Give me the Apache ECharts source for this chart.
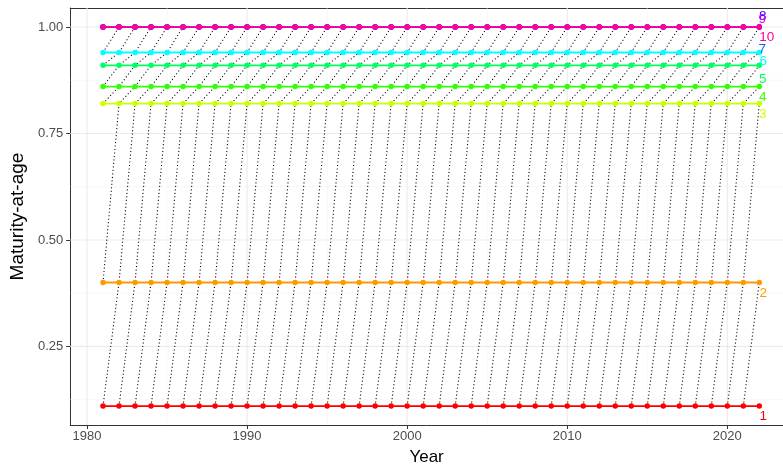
<!DOCTYPE html>
<html>
<head>
<meta charset="utf-8">
<script src="https://cdn.jsdelivr.net/npm/echarts@6/dist/echarts.min.js"></script>
<style>
  html, body { margin: 0; padding: 0; background: #fff; }
  #chart { width: 783px; height: 471px; }
</style>
</head>
<body>
<div id="chart"></div>
<script>
// ---- Data ----
const years = [1981, 1982, 1983, 1984, 1985, 1986, 1987, 1988, 1989, 1990,
               1991, 1992, 1993, 1994, 1995, 1996, 1997, 1998, 1999, 2000,
               2001, 2002, 2003, 2004, 2005, 2006, 2007, 2008, 2009, 2010,
               2011, 2012, 2013, 2014, 2015, 2016, 2017, 2018, 2019, 2020,
               2021, 2022];
const ages = ["1", "2", "3", "4", "5", "6", "7", "8", "9", "10"];
const maturityAtAge = [0.11, 0.40, 0.82, 0.86, 0.91, 0.94, 1.00, 1.00, 1.00, 1.00];
const xTicks = [1980, 1990, 2000, 2010, 2020];
const xMinorTicks = [1985, 1995, 2005, 2015];
const yTicks = [0.25, 0.50, 0.75, 1.00];
const yMinorTicks = [0.125, 0.375, 0.625, 0.875];

// ---- Styles / layout ----
const X_MIN = 1978.95, X_MAX = 2023.48;
const Y_MIN = 0.0655, Y_MAX = 1.0445;
const FONT = "Liberation Sans, Arial, sans-serif";
const ageColors = ["#FF0000", "#FF9900", "#CCFF00", "#33FF00", "#00FF66",
                   "#00FFFF", "#0066FF", "#3300FF", "#CC00FF", "#FF0099"];
// label offsets (px) relative to the last point of each age line
const labelOffsets = [[4, 10.5], [4, 10.5], [3.5, 10.5], [3.5, 11], [3.5, 14],
                      [4, 9], [3, 22], [3.5, -10.5], [3, -8], [7.5, 10.5]];

const series = [];

// grid lines
const gridMajor = { color: "#EBEBEB", width: 1.1 };
const gridMinor = { color: "#F3F3F3", width: 0.6 };
function gridSeries(pts, style) {
  return { type: "line", data: pts, showSymbol: false, silent: true, z: 0,
           lineStyle: style, animation: false };
}
yMinorTicks.forEach(v => series.push(gridSeries([[X_MIN, v], [X_MAX, v]], gridMinor)));
xMinorTicks.forEach(v => series.push(gridSeries([[v, Y_MIN], [v, Y_MAX]], gridMinor)));
yTicks.forEach(v => series.push(gridSeries([[X_MIN, v], [X_MAX, v]], gridMajor)));
xTicks.forEach(v => series.push(gridSeries([[v, Y_MIN], [v, Y_MAX]], gridMajor)));

// cohort (dotted) lines
const firstYear = years[0], lastYear = years[years.length - 1];
for (let c = firstYear - ages.length; c <= lastYear - 1; c++) {
  const pts = [];
  ages.forEach((a, i) => {
    const y = c + Number(a);
    if (years.includes(y)) pts.push([y, maturityAtAge[i]]);
  });
  if (pts.length >= 2) {
    series.push({
      type: "line", data: pts, showSymbol: false, silent: true, z: 1,
      lineStyle: { color: "#000", width: 1.1, type: [1.1, 2.4], opacity: 0.95 }
    });
  }
}

// age lines with points
ages.forEach((a, i) => {
  series.push({
    type: "line", name: a, z: 2 + i * 0.01,
    data: years.map(y => [y, maturityAtAge[i]]),
    symbol: "circle", symbolSize: 5.5, showSymbol: true,
    itemStyle: { color: ageColors[i] },
    lineStyle: { color: ageColors[i], width: 1.8 }
  });
});

// end labels
ages.forEach((a, i) => {
  series.push({
    type: "scatter", z: 3, silent: true,
    data: [[lastYear, maturityAtAge[i]]],
    symbolSize: 0,
    itemStyle: { color: ageColors[i] },
    label: {
      show: true, position: labelOffsets[i],
      formatter: "{c|" + a + "}",
      align: "center", verticalAlign: "middle",
      color: ageColors[i], textBorderWidth: 0,
      fontSize: 13.5, fontFamily: FONT,
      rich: { c: { color: ageColors[i], fontSize: 13.5, fontFamily: FONT,
                   textBorderWidth: 0, opacity: 1 } }
    }
  });
});

const chart = echarts.init(document.getElementById("chart"), null, { renderer: "canvas" });
chart.setOption({
  animation: false,
  backgroundColor: "#ffffff",
  grid: { left: 66, top: 8, right: 0, bottom: 41.5, show: false },
  xAxis: [{
    type: "value", min: X_MIN, max: X_MAX,
    name: "Year", nameLocation: "middle", nameGap: 24,
    nameTextStyle: { color: "#000", fontSize: 17, fontFamily: FONT },
    axisLine: { show: true, lineStyle: { color: "#333333", width: 1 } },
    axisTick: { show: true, length: 4, lineStyle: { color: "#333333" }, customValues: xTicks },
    axisLabel: { color: "#4D4D4D", fontSize: 13, margin: 5, customValues: xTicks,
                 formatter: v => String(v), fontFamily: FONT },
    splitLine: { show: false }
  }, {
    type: "value", position: "top", min: X_MIN, max: X_MAX,
    axisLine: { show: true, lineStyle: { color: "#333333", width: 1 } },
    axisTick: { show: false }, axisLabel: { show: false }, splitLine: { show: false }
  }],
  yAxis: {
    type: "value", min: Y_MIN, max: Y_MAX,
    name: "Maturity-at-age", nameLocation: "middle", nameGap: 39, nameRotate: 90,
    nameTextStyle: { color: "#000", fontSize: 19, fontFamily: FONT },
    axisLine: { show: true, lineStyle: { color: "#333333", width: 1 } },
    axisTick: { show: true, length: 4, lineStyle: { color: "#333333" }, customValues: yTicks },
    axisLabel: { color: "#4D4D4D", fontSize: 13, margin: 7, customValues: yTicks,
                 formatter: v => v.toFixed(2), fontFamily: FONT },
    splitLine: { show: false }
  },
  series: series
});
</script>
</body>
</html>
